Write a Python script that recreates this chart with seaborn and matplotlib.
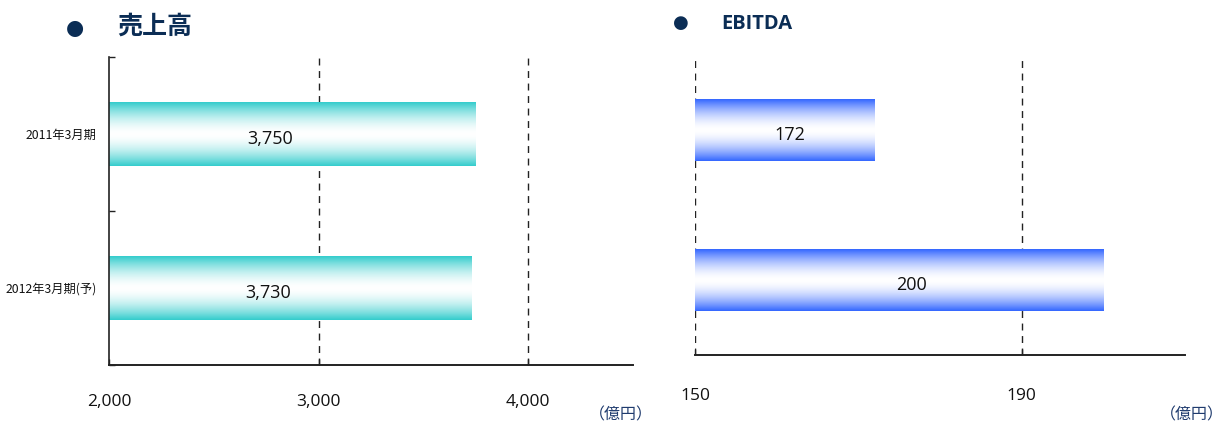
import numpy as np
import pandas as pd
import matplotlib
matplotlib.use("Agg")
import matplotlib.pyplot as plt
import matplotlib.colors as mcolors
import seaborn as sns

# Data
periods = ["2011年3月期", "2012年3月期(予)"]
sales = [3750, 3730]
ebitda = [172, 200]
sales_ticks = [2000, 3000, 4000]
ebitda_ticks = [150, 190]
sales_tick_labels = ["2,000", "3,000", "4,000"]
ebitda_tick_labels = ["150", "190"]
sales_value_labels = ["3,750", "3,730"]
ebitda_value_labels = ["172", "200"]
unit_label = "（億円）"

sns.set_theme(style="white")
plt.rcParams["font.family"] = ["Noto Sans CJK JP", "DejaVu Sans"]

NAVY = "#0B2D55"
TEAL = "#33CCCC"
BLUE = "#3366FF"

fig = plt.figure(figsize=(12.24, 4.28), dpi=100)
ax1 = fig.add_axes([0.0891, 0.1472, 0.4281, 0.7196])
ax2 = fig.add_axes([0.5678, 0.1706, 0.4003, 0.6986])


def gradient_fill(ax, color, xmin):
    """Replace each bar's flat fill with a vertical edge-to-centre gradient."""
    rgb = np.array(mcolors.to_rgb(color))
    n = 200
    t = np.abs(np.linspace(-1, 1, n))
    f = t ** 1.7
    img = (1 - f)[:, None] * np.ones(3)[None, :] + f[:, None] * rgb[None, :]
    img = img[:, None, :]
    for p in ax.patches:
        x0 = max(p.get_x(), xmin)
        x1 = p.get_x() + p.get_width()
        y0 = p.get_y()
        y1 = y0 + p.get_height()
        p.set_facecolor("none")
        p.set_edgecolor("none")
        ax.imshow(img, extent=[x0, x1, y1, y0], aspect="auto",
                  interpolation="bilinear", zorder=2)


def style_panel(ax, values, color, xlim, ticks, tick_labels, value_labels,
                frac, show_left, label_pad):
    df = pd.DataFrame({"period": periods, "value": values})
    sns.barplot(data=df, x="value", y="period", orient="h", ax=ax,
                width=0.41, color=color, zorder=2)
    gradient_fill(ax, color, xlim[0])
    ax.set_xlim(*xlim)
    ax.set_ylim(1.5, -0.5)
    ax.set_xlabel("")
    ax.set_ylabel("")

    # dashed vertical gridlines
    for t in ticks:
        if show_left and t == xlim[0]:
            continue
        ax.axvline(t, color="#222222", lw=1.0, ls=(0, (5, 4)), zorder=1)

    ax.set_xticks(ticks)
    ax.set_xticklabels(tick_labels, fontsize=12.5, color="#111111",
                       family=["Open Sans", "DejaVu Sans"])
    ax.tick_params(axis="x", direction="in", length=4, width=1, color="#222222",
                   pad=label_pad, bottom=True)

    for s in ["top", "right"]:
        ax.spines[s].set_visible(False)
    ax.spines["bottom"].set_color("#222222")
    ax.spines["bottom"].set_linewidth(1.4)
    if show_left:
        ax.spines["left"].set_color("#222222")
        ax.spines["left"].set_linewidth(1.2)
        ax.set_yticks([0, 1])
        ax.set_yticklabels(periods, fontsize=8.8, color="#111111")
        ax.tick_params(axis="y", length=0, pad=9)
        ax.set_yticks([-0.5, 0.5, 1.5], minor=True)
        ax.tick_params(axis="y", which="minor", direction="in", length=4,
                       width=1, color="#222222", left=True)
    else:
        ax.spines["left"].set_visible(False)
        ax.set_yticks([])

    for i, (v, lab) in enumerate(zip(values, value_labels)):
        xpos = xlim[0] + frac * (v - xlim[0])
        ax.text(xpos, i + 0.03, lab, ha="center", va="center", fontsize=13,
                color="#111111", family=["Open Sans", "DejaVu Sans"], zorder=5)


style_panel(ax1, sales, TEAL, (2000, 4500), sales_ticks, sales_tick_labels,
            sales_value_labels, 0.44, True, 21)
style_panel(ax2, ebitda, BLUE, (150, 210), ebitda_ticks, ebitda_tick_labels,
            ebitda_value_labels, 0.53, False, 24)

# Panel headings
fig.text(75 / 1224, 1 - 28 / 428, "●", fontsize=15, color=NAVY,
         ha="center", va="center", family=["DejaVu Sans"])
fig.text(117 / 1224, 1 - 27 / 428, "売上高", fontsize=18, color=NAVY,
         ha="left", va="center", fontweight="bold")
fig.text(681 / 1224, 1 - 23 / 428, "●", fontsize=13, color=NAVY,
         ha="center", va="center", family=["DejaVu Sans"])
fig.text(721 / 1224, 1 - 24 / 428, "EBITDA", fontsize=14.5, color=NAVY,
         ha="left", va="center", fontweight="bold", family=["Open Sans", "DejaVu Sans"])

# Unit labels
fig.text(653 / 1224, 1 - 415 / 428, unit_label, fontsize=11.5, color="#1F3B6E",
         ha="right", va="center")
fig.text(1224 / 1224, 1 - 415 / 428, unit_label, fontsize=11.5, color="#1F3B6E",
         ha="right", va="center")

fig.savefig("out.png", dpi=100)
